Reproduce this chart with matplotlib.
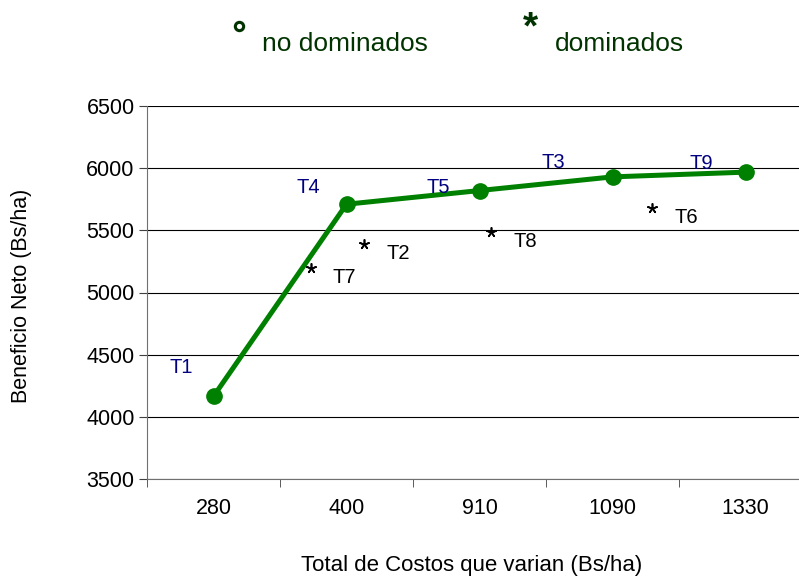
import matplotlib.pyplot as plt
from matplotlib.lines import Line2D

plt.rcParams['font.family'] = ['Liberation Sans', 'DejaVu Sans']

costs = ["280", "400", "910", "1090", "1330"]
nd_names = ["T1", "T4", "T5", "T3", "T9"]
nd_values = [4165, 5710, 5820, 5930, 5968]

# dominados: posicion aproximada sobre el eje de categorias
d_names = ["T7", "T2", "T8", "T6"]
d_pos = [0.73, 1.13, 2.09, 3.30]
d_values = [5200, 5390, 5490, 5680]

green = "#008000"
navy = "#000080"
dark_green = "#003300"

fig = plt.figure(figsize=(7.99, 5.76), dpi=100)
ax = fig.add_axes([147/799, (576-479)/576, 665/799, 373/576])

x = list(range(len(costs)))
ax.plot(x, nd_values, color=green, lw=3.6, marker="o", ms=11, zorder=3)
ax.scatter(d_pos, d_values, marker=(5, 2, 0), s=45, color="black", lw=1.2, zorder=3)

nd_off = [(-32, 21), (-36, 12), (-38, 2), (-51, 10), (-40, 6)]
for xi, v, name, off in zip(x, nd_values, nd_names, nd_off):
    ax.annotate(name, (xi, v), xytext=off, textcoords="offset points",
                color=navy, fontsize=14.5, ha="left", va="center")
for xi, v, name in zip(d_pos, d_values, d_names):
    ax.annotate(name, (xi, v), xytext=(16, -7), textcoords="offset points",
                color="black", fontsize=14.5, ha="left", va="center")

ax.set_xlim(-0.5, 4.5)
ax.set_ylim(3500, 6500)
ax.set_yticks(range(3500, 6501, 500))
ax.set_xticks(x)
ax.set_xticklabels(costs, fontsize=15.5)
ax.tick_params(axis="x", length=0, pad=14)
ax.set_xticks([-0.5, 0.5, 1.5, 2.5, 3.5], minor=True)
ax.tick_params(axis="x", which="minor", length=6, color="#404040")
ax.tick_params(axis="y", labelsize=15.5, length=6, color="#404040", pad=3)
ax.grid(axis="y", color="black", lw=0.8)
ax.set_axisbelow(True)
for s in ["top", "right"]:
    ax.spines[s].set_visible(False)
for s in ["left", "bottom"]:
    ax.spines[s].set_color("#707070")

ax.set_ylabel("Beneficio Neto (Bs/ha)", fontsize=15.5)
ax.yaxis.set_label_coords(-(147 - 22) / 665, (576 - 296 - 97) / 373)
ax.set_xlabel("Total de Costos que varian (Bs/ha)", fontsize=16)
ax.xaxis.set_label_coords((472 - 147) / 665, -(565 - 479) / 373)
ax.xaxis.label.set_va("center")
ax.yaxis.label.set_va("center")

fig.add_artist(Line2D([239/799], [1 - 26/576], transform=fig.transFigure, marker="o", ms=6,
                      mfc="white", mec=dark_green, mew=2.2, ls="none"))
fig.text(262/799, 1 - 44/576, "no dominados", fontsize=19, color=dark_green, ha="left", va="center")
fig.text(530/799, 1 - 28/576, "*", fontsize=28, color=dark_green, ha="center", va="center", fontweight="bold")
fig.text(555/799, 1 - 44/576, "dominados", fontsize=19, color=dark_green, ha="left", va="center")

fig.savefig("out.png", dpi=100)
